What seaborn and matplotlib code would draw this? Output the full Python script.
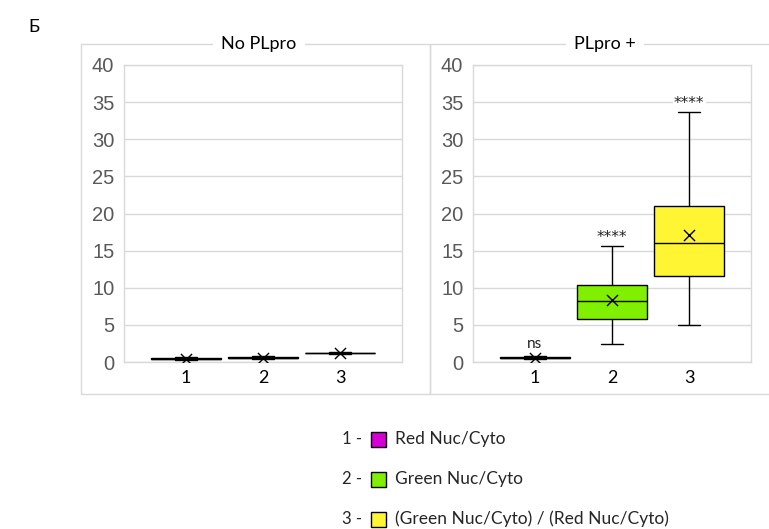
import numpy as np
import pandas as pd
import matplotlib
matplotlib.use("Agg")
import matplotlib.pyplot as plt
from matplotlib.patches import Rectangle
import seaborn as sns

# Groups and colours
groups = ["1", "2", "3"]
colors = ["#d400d4", "#80f000", "#fff533"]
legend_labels = ["Red Nuc/Cyto", "Green Nuc/Cyto", "(Green Nuc/Cyto) / (Red Nuc/Cyto)"]
panel_titles = ["No PLpro", "PLpro +"]

# five-number summaries (min, q1, median, q3, max)
no_plpro_1 = [0.28, 0.40, 0.45, 0.50, 0.62]
no_plpro_2 = [0.35, 0.48, 0.55, 0.64, 0.80]
no_plpro_3 = [1.05, 1.15, 1.20, 1.26, 1.40]
plpro_1 = [0.35, 0.50, 0.55, 0.62, 0.80]
plpro_2 = [2.4, 5.85, 8.2, 10.4, 15.65]
plpro_3 = [5.05, 11.55, 16.0, 20.95, 33.7]

# means (x markers)
no_plpro_means = [0.46, 0.57, 1.22]
plpro_means = [0.56, 8.3, 17.15]

# significance labels (PLpro + only)
sig_labels = ["ns", "****", "****"]

def long_table(summaries):
    rows = []
    for g, vals in zip(groups, summaries):
        for v in vals:
            rows.append({"group": g, "value": v})
    return pd.DataFrame(rows)

df_no = long_table([no_plpro_1, no_plpro_2, no_plpro_3])
df_pl = long_table([plpro_1, plpro_2, plpro_3])

sns.set_style("white")
plt.rcParams["font.family"] = ["Lato", "DejaVu Sans"]

W, H = 769, 529
fig = plt.figure(figsize=(W / 100, H / 100), dpi=100)

def fx(px):
    return px / W

def fy(py):
    return 1 - py / H

grid_c = "#d9d9d9"

# outer frames of the two panels
for x0, x1 in [(81, 430), (430, 790)]:
    fig.patches.append(Rectangle((fx(x0), fy(394)), fx(x1 - x0), (394 - 44) / H,
                                 transform=fig.transFigure, fill=False,
                                 edgecolor=grid_c, linewidth=1, zorder=0))

panels = [
    (124, df_no, no_plpro_means, None, 259),
    (473, df_pl, plpro_means, sig_labels, 605),
]

for (left, df, means, sigs, tx), title in zip(panels, panel_titles):
    ax = fig.add_axes([fx(left), fy(362), fx(278), (362 - 65) / H])
    sns.boxplot(data=df, x="group", y="value", hue="group", palette=colors,
                order=groups, hue_order=groups, width=0.91, whis=(0, 100),
                saturation=1, showfliers=False, linecolor="black", linewidth=1,
                legend=False, ax=ax)
    # shorten whisker caps
    for line in ax.lines:
        xd = line.get_xdata()
        yd = line.get_ydata()
        if len(xd) == 2 and yd[0] == yd[1] and abs(xd[1] - xd[0]) < 0.6:
            c = (xd[0] + xd[1]) / 2
            line.set_xdata([c - 0.145, c + 0.145])
    sns.stripplot(x=groups, y=means, order=groups, marker="x", color="black",
                  jitter=False, size=8, linewidth=1, ax=ax, zorder=5)
    if sigs is not None:
        tops = [plpro_1[-1], plpro_2[-1], plpro_3[-1]]
        for i, (lab, top) in enumerate(zip(sigs, tops)):
            if lab == "ns":
                ax.text(i, top + 1.05, lab, ha="center", va="baseline",
                        fontsize=11, color="#222222", zorder=6)
            else:
                ax.text(i, top + 0.45, lab, ha="center", va="baseline",
                        fontsize=11, family="DejaVu Sans", color="#222222",
                        bbox=dict(facecolor="white", edgecolor="none", pad=1),
                        zorder=1)
    ax.set_ylim(0, 40)
    ax.set_xlim(-0.8, 2.8)
    ax.set_yticks(np.arange(0, 41, 5))
    ax.yaxis.grid(True, color=grid_c, linewidth=1)
    ax.set_axisbelow(True)
    ax.set_xlabel("")
    ax.set_ylabel("")
    ax.tick_params(length=0)
    ax.tick_params(axis="y", labelsize=14.5, labelcolor="#595959", pad=7)
    ax.tick_params(axis="x", labelsize=13, labelcolor="black", pad=6)
    for lab in ax.get_yticklabels():
        lab.set_fontfamily("Liberation Sans")
    for s in ax.spines.values():
        s.set_color(grid_c)
        s.set_linewidth(1)
    fig.text(fx(tx), fy(44), title, ha="center", va="center", fontsize=13,
             color="black", bbox=dict(facecolor="white", edgecolor="none", pad=6),
             zorder=3)

fig.text(fx(28), fy(27), "Б", ha="left", va="center", fontsize=13, color="black")

# legend below the panels
for i, (g, c, lab) in enumerate(zip(groups, colors, legend_labels)):
    yc = 439 + 40 * i
    fig.text(fx(342), fy(yc), g + " -", ha="left", va="center", fontsize=12)
    fig.patches.append(Rectangle((fx(371), fy(yc + 7.5)), fx(15), 15 / H,
                                 transform=fig.transFigure, facecolor=c,
                                 edgecolor="black", linewidth=1))
    fig.text(fx(395), fy(yc), lab, ha="left", va="center", fontsize=12.5)

plt.savefig("out.png", dpi=100)
